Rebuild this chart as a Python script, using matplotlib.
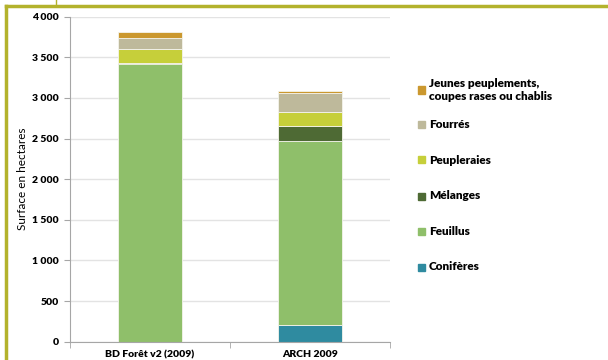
"""Surface forestière par type de peuplement : BD Forêt v2 vs ARCH 2009."""
import matplotlib.pyplot as plt
import numpy as np
from matplotlib.lines import Line2D
from matplotlib.patches import Rectangle
from matplotlib.ticker import FuncFormatter

CATEGORIES = ["BD Forêt v2 (2009)", "ARCH 2009"]
SERIES = ["Conifères", "Feuillus", "Mélanges", "Peupleraies", "Fourrés",
          "Jeunes peuplements,\ncoupes rases ou chablis"]
VALUES = {
    "Conifères": [0, 205],
    "Feuillus": [3420, 2270],
    "Mélanges": [15, 180],
    "Peupleraies": [165, 175],
    "Fourrés": [140, 230],
    "Jeunes peuplements,\ncoupes rases ou chablis": [68, 25],
}
COLORS = ["#2F8BA0", "#8FBF6A", "#4E6A34", "#C6CF3A", "#BEB99B", "#CB982F"]

W, H = 608, 360
plt.rcParams.update({"font.family": ["Lato", "DejaVu Sans"], "font.size": 7.5})

fig = plt.figure(figsize=(W / 100, H / 100), dpi=100)
ax = fig.add_axes([70 / W, 1 - 341.7 / H, 320 / W, 325 / H])

x = np.arange(len(CATEGORIES))
bottom = np.zeros(len(CATEGORIES))
for name, color in zip(SERIES, COLORS):
    vals = np.array(VALUES[name], float)
    ax.bar(x, vals, 0.4, bottom=bottom, color=color,
           edgecolor="#F4F4EC", linewidth=0.6, label=name)
    bottom += vals

ax.set_xlim(-0.5, 1.5)
ax.set_ylim(0, 4000)
ax.set_yticks(np.arange(0, 4001, 500))
ax.yaxis.set_major_formatter(FuncFormatter(lambda v, _: f"{int(v):,}".replace(",", " ")))
ax.set_xticks(x)
ax.set_xticklabels(CATEGORIES, fontweight="heavy")
for lab in ax.get_yticklabels():
    lab.set_fontweight("heavy")
ax.tick_params(axis="x", length=0, pad=6)
ax.tick_params(axis="y", length=4, color="#A6A6A6", pad=4)
# category separators on the x axis
ax.set_xticks([-0.5, 0.5, 1.5], minor=True)
ax.tick_params(axis="x", which="minor", length=4, color="#A6A6A6")
ax.grid(axis="y", color="#E3E3E3", linewidth=1)
ax.set_axisbelow(True)
for s in ("top", "right"):
    ax.spines[s].set_visible(False)
for s in ("left", "bottom"):
    ax.spines[s].set_color("#A6A6A6")
ax.set_ylabel("Surface en hectares", fontsize=8.5)
ax.yaxis.set_label_coords(-(70 - 28) / 320, 0.5)

# legend, top entry = last stacked series
legend_y = [90, 124, 160, 196, 231, 267]
for name, color, yy in zip(SERIES[::-1], COLORS[::-1], legend_y):
    fig.add_artist(Rectangle((418 / W, 1 - (yy + 3.5) / H), 7 / W, 7 / H,
                             color=color, transform=fig.transFigure))
    fig.text(429 / W, 1 - yy / H, name, va="center", ha="left",
             fontsize=8.5, fontweight="heavy", linespacing=1.25)

# decorative olive frame
olive = "#B3B22C"
fig.add_artist(Line2D([6 / W, 1], [1 - 6 / H] * 2, color=olive, lw=2.5,
                      transform=fig.transFigure))
fig.add_artist(Line2D([6 / W] * 2, [0, 1 - 6 / H], color=olive, lw=2.5,
                      transform=fig.transFigure))
fig.add_artist(Line2D([56 / W] * 2, [1 - 6 / H, 1], color=olive, lw=1,
                      transform=fig.transFigure))

fig.savefig("out.png", dpi=100)
